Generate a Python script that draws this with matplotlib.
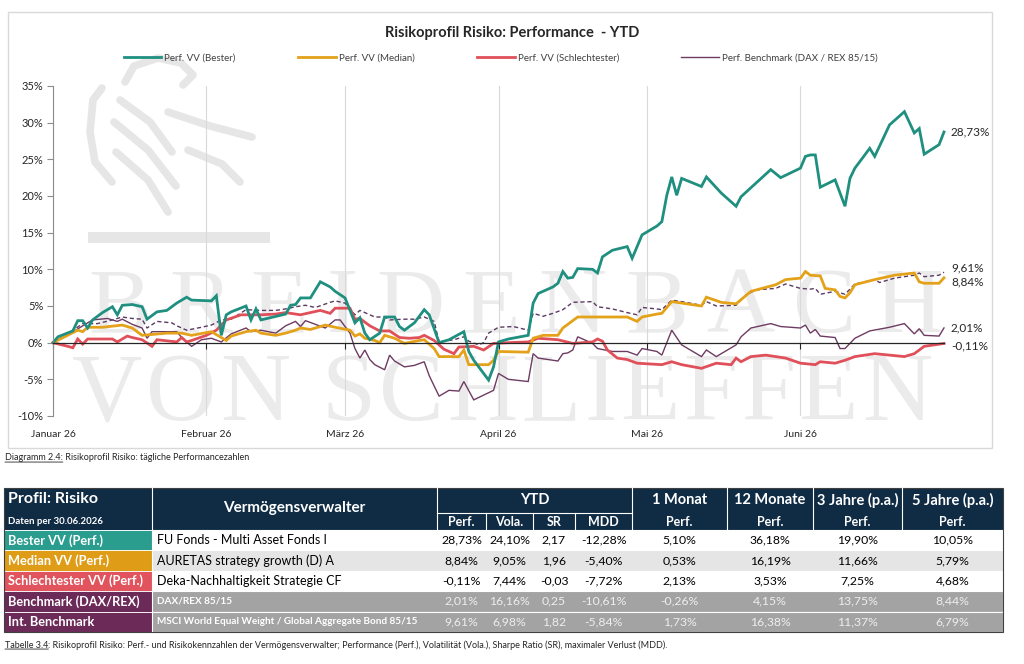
import matplotlib
matplotlib.use("Agg")
import matplotlib.pyplot as plt
import matplotlib.dates as mdates
import pandas as pd
from matplotlib.patches import Rectangle
from matplotlib.lines import Line2D

plt.rcParams["font.family"] = ["Lato", "DejaVu Sans"]

W, H = 1024, 664
YEAR = "2026-"

# ---- chart data: YTD performance in % ----
best_dates = ["01-01", "01-02", "01-05", "01-06", "01-07", "01-08", "01-09", "01-11", "01-13", "01-14",
              "01-15", "01-17", "01-19", "01-20", "01-22", "01-24", "01-26", "01-28", "01-29",
              "02-02", "02-03", "02-04", "02-05", "02-06", "02-09", "02-10", "02-11", "02-12", "02-17",
              "02-18", "02-19", "02-20", "02-22", "02-24", "02-26", "02-27",
              "03-01", "03-03", "03-04", "03-05", "03-06", "03-08", "03-09", "03-11", "03-12", "03-13",
              "03-15", "03-17", "03-18", "03-20", "03-22", "03-25", "03-26", "03-27", "03-30", "03-31",
              "04-01", "04-03", "04-07", "04-08", "04-09", "04-12", "04-13", "04-14", "04-15", "04-16",
              "04-17", "04-20", "04-21", "04-22", "04-24", "04-27", "04-28", "04-30",
              "05-03", "05-04", "05-05", "05-06", "05-07", "05-08", "05-12", "05-13", "05-16", "05-19",
              "05-20", "05-26", "05-28",
              "06-01", "06-02", "06-03", "06-04", "06-05", "06-08", "06-10", "06-11", "06-12", "06-15",
              "06-16", "06-19", "06-22", "06-24", "06-25", "06-26", "06-29", "06-30"]
best_vals = [0.0, 0.8, 1.6, 3.0, 3.0, 2.0, 3.1, 4.1, 4.9, 3.8, 5.1, 5.2, 4.9, 3.2, 4.2, 4.4, 5.4, 6.2, 5.8,
             5.7, 6.4, 1.0, 3.8, 4.2, 5.0, 3.1, 4.6, 3.1, 3.9, 5.1, 5.2, 6.1, 6.1, 8.3, 7.6, 7.0,
             6.1, 2.7, 3.4, 1.3, 0.4, 1.3, 3.5, 3.5, 2.2, 1.7, 2.7, 4.5, 3.8, 0.0, 0.4, 1.5, -1.2, -2.4, -5.1, -3.3,
             0.1, 0.5, 1.0, 5.4, 6.7, 7.6, 8.1, 9.7, 8.8, 8.9, 10.1, 10.0, 9.5, 11.7, 12.6, 13.1, 11.5, 14.7,
             15.9, 16.5, 20.1, 22.6, 20.1, 22.4, 21.3, 22.6, 20.4, 18.6, 19.9, 23.6, 22.5,
             23.8, 25.4, 25.6, 25.6, 21.2, 22.2, 18.6, 22.4, 23.8, 26.5, 25.4, 29.7, 31.5, 28.6, 29.2, 25.7,
             27.0, 28.73]

median_dates = ["01-01", "01-06", "01-07", "01-08", "01-11", "01-15", "01-17", "01-19", "01-24", "01-27", "01-29",
                "02-02", "02-05", "02-06", "02-09", "02-11", "02-12", "02-15", "02-17", "02-19", "02-20",
                "02-22", "02-25", "02-27",
                "03-02", "03-03", "03-04", "03-05", "03-07", "03-08", "03-09", "03-11", "03-13", "03-16",
                "03-17", "03-19", "03-20", "03-24", "03-25", "03-26", "03-30", "03-31",
                "04-01", "04-07", "04-08", "04-10", "04-13", "04-14", "04-17", "04-22", "04-27", "04-29", "04-30",
                "05-03", "05-04", "05-06", "05-12", "05-13", "05-16", "05-19", "05-22", "05-27", "05-29",
                "06-01", "06-02", "06-03", "06-05", "06-06", "06-08", "06-09", "06-10", "06-11", "06-12",
                "06-16", "06-20", "06-24", "06-25", "06-26", "06-29", "06-30"]
median_vals = [0.0, 1.7, 1.5, 2.1, 2.1, 2.4, 2.0, 1.0, 1.3, 1.3, 1.0,
               1.5, 0.3, 0.9, 1.5, 1.7, 1.3, 1.0, 1.3, 1.7, 2.0, 1.8, 2.4, 2.1,
               1.7, 0.9, 1.2, 0.6, 0.3, 0.0, 1.0, 0.6, -0.1, 0.3, 0.4, -0.8, -1.9, -1.9, -1.0, -3.0, -3.0, -2.4,
               -1.2, -1.3, 0.6, 1.0, 1.0, 2.0, 3.5, 3.5, 3.5, 2.9, 3.5,
               3.9, 4.0, 5.6, 5.0, 6.2, 5.5, 5.3, 7.0, 7.9, 8.6,
               8.8, 9.7, 9.2, 9.1, 7.4, 7.2, 6.3, 6.1, 6.8, 7.9, 8.6, 9.2, 9.5, 8.3, 8.1, 8.1, 8.84]

worst_dates = ["01-01", "01-04", "01-05", "01-06", "01-07", "01-08", "01-13", "01-14", "01-16", "01-17",
               "01-19", "01-21", "01-22", "01-26", "01-27", "01-28", "01-29",
               "02-01", "02-03", "02-05", "02-08", "02-12", "02-15", "02-17", "02-20", "02-22", "02-24",
               "02-26", "02-27",
               "03-02", "03-03", "03-04", "03-06", "03-08", "03-10", "03-12", "03-14", "03-16", "03-17",
               "03-19", "03-21", "03-23", "03-24", "03-27", "03-29", "03-31",
               "04-03", "04-07", "04-09", "04-13", "04-16", "04-20", "04-21", "04-22", "04-23", "04-25",
               "04-27", "04-29",
               "05-04", "05-06", "05-08", "05-12", "05-15", "05-18", "05-19", "05-20", "05-22", "05-25", "05-29",
               "06-01", "06-04", "06-05", "06-08", "06-10", "06-12", "06-16", "06-19", "06-22", "06-24",
               "06-26", "06-30"]
worst_vals = [0.0, -0.5, -0.7, 0.5, -0.2, 0.5, 0.5, 0.1, 0.9, 0.7, 0.4, -0.5, 0.4, 0.1, 0.7, 0.1, 0.3,
              1.0, 1.7, 3.1, 3.8, 3.8, 3.9, 4.1, 3.8, 4.1, 4.4, 4.0, 4.7,
              4.7, 3.2, 3.3, 2.3, 1.6, 1.6, 0.7, 0.6, 0.7, 1.0, 0.3, -0.9, -1.5, -0.6, -0.5, -1.0, -0.1,
              0.0, 0.1, 0.6, 0.4, -0.1, 0.1, 0.5, 0.2, -1.0, -2.1, -2.3, -2.8,
              -3.0, -2.6, -3.0, -3.5, -2.8, -3.0, -2.1, -2.6, -1.9, -1.7, -2.1,
              -2.8, -3.0, -2.6, -2.8, -2.4, -1.9, -1.5, -1.7, -1.9, -1.5, -0.5, -0.11]

bench_dates = ["01-01", "01-04", "01-07", "01-09", "01-12", "01-14", "01-15", "01-17", "01-19", "01-20",
               "01-21", "01-26", "01-27", "01-29", "01-31",
               "02-02", "02-04", "02-06", "02-09", "02-10", "02-12", "02-15", "02-17", "02-19", "02-20",
               "02-21", "02-23", "02-25", "02-27", "02-28",
               "03-02", "03-03", "03-04", "03-05", "03-06", "03-07", "03-09", "03-10", "03-11", "03-13",
               "03-15", "03-17", "03-18", "03-20", "03-22", "03-24", "03-25", "03-27", "03-31",
               "04-01", "04-03", "04-07", "04-08", "04-09", "04-13", "04-14", "04-15", "04-16", "04-17",
               "04-20", "04-21", "04-24", "04-27", "04-29", "04-30",
               "05-03", "05-04", "05-06", "05-08", "05-12", "05-13", "05-15", "05-19", "05-20", "05-22",
               "05-26", "05-28",
               "06-01", "06-02", "06-03", "06-04", "06-05", "06-08", "06-09", "06-10", "06-12", "06-15",
               "06-19", "06-22", "06-24", "06-25", "06-26", "06-29", "06-30"]
bench_vals = [0.0, 1.0, 2.3, 3.1, 3.3, 2.9, 3.2, 2.5, 2.0, 0.6, 1.5, 1.5, 0.7, -0.5, 0.4,
              0.6, 0.1, 1.2, 2.0, 1.5, 1.7, 1.3, 2.3, 2.9, 2.2, 3.0, 2.5, 2.0, 3.1, 3.1,
              1.3, -0.8, -2.1, -1.0, -2.3, -3.0, -3.7, -1.7, -2.5, -3.3, -3.1, -2.6, -4.5, -7.3, -6.5,
              -6.6, -5.3, -7.8, -6.5,
              -4.2, -5.0, -5.3, -1.5, -2.1, -2.5, -1.5, -1.4, -1.0, 0.8, -0.1, -0.8, -1.2, -1.2, -1.7, -0.8,
              -1.2, -1.7, 1.7, -0.3, -1.9, -1.0, -1.9, -0.3, 0.8, 2.0, 2.6, 2.2,
              2.0, 2.4, 1.3, 1.8, 0.9, 0.7, -0.8, -0.8, 0.6, 1.6, 2.1, 2.6, 1.2, 1.9, 1.0, 0.9, 2.01]

intbm_dates = ["01-01", "01-04", "01-07", "01-10", "01-13", "01-15", "01-17", "01-19", "01-20", "01-22",
               "01-25", "01-26", "01-28", "01-31",
               "02-02", "02-04", "02-06", "02-09", "02-12", "02-15", "02-17", "02-19", "02-21", "02-23",
               "02-26", "02-27",
               "03-01", "03-03", "03-04", "03-07", "03-09", "03-10", "03-13", "03-15", "03-17", "03-19",
               "03-20", "03-23", "03-25", "03-26", "03-28", "03-29", "03-30",
               "04-01", "04-04", "04-07", "04-08", "04-10", "04-12", "04-14", "04-16", "04-20", "04-21",
               "04-24", "04-27", "04-29", "04-30",
               "05-03", "05-04", "05-06", "05-08", "05-12", "05-13", "05-15", "05-19", "05-21", "05-23",
               "05-27", "05-29",
               "06-01", "06-03", "06-04", "06-05", "06-08", "06-10", "06-12", "06-16", "06-17", "06-20",
               "06-24", "06-25", "06-26", "06-29", "06-30"]
intbm_vals = [0.0, 1.2, 2.6, 2.6, 3.1, 3.5, 3.3, 3.2, 2.0, 2.9, 2.7, 2.3, 1.7, 2.1,
              2.4, 3.1, 3.2, 4.5, 4.4, 4.4, 4.6, 4.9, 5.1, 4.8, 5.5, 5.7,
              5.4, 3.8, 4.4, 3.5, 3.5, 3.1, 3.2, 3.2, 3.5, 2.9, 0.1, 0.4, 0.8, 0.2, -0.3, 0.0, 1.3,
              2.1, 2.2, 1.7, 4.0, 3.6, 4.0, 4.5, 5.5, 5.6, 4.9, 4.6, 4.1, 3.8, 4.8,
              4.6, 4.5, 5.8, 5.6, 5.1, 5.6, 5.0, 5.1, 6.5, 7.2, 7.4, 8.0,
              7.4, 7.3, 7.4, 6.6, 7.0, 6.6, 8.0, 8.6, 8.2, 8.8, 9.2, 9.5, 9.0, 9.2, 9.61]

legend_names = ["Perf. VV (Bester)", "Perf. VV (Median)", "Perf. VV (Schlechtester)",
                "Perf. Benchmark (DAX / REX 85/15)"]
month_starts = ["01-01", "02-01", "03-01", "04-01", "05-01", "06-01"]
month_labels = ["Januar 26", "Februar 26", "März 26", "April 26", "Mai 26", "Juni 26"]
y_ticks = [-10, -5, 0, 5, 10, 15, 20, 25, 30, 35]

# ---- table data ----
row_labels = ["Bester VV (Perf.)", "Median VV (Perf.)", "Schlechtester VV (Perf.)",
              "Benchmark (DAX/REX)", "Int. Benchmark"]
fund_names = ["FU Fonds - Multi Asset Fonds I", "AURETAS strategy growth (D) A",
              "Deka-Nachhaltigkeit Strategie CF", "DAX/REX 85/15",
              "MSCI World Equal Weight / Global Aggregate Bond 85/15"]
group_heads = ["1 Monat", "12 Monate", "3 Jahre (p.a.)", "5 Jahre (p.a.)"]
sub_heads = ["Perf.", "Vola.", "SR", "MDD", "Perf.", "Perf.", "Perf.", "Perf."]
table_vals = [
    [28.73, 24.10, 2.17, -12.28, 5.10, 36.18, 19.90, 10.05],
    [8.84, 9.05, 1.96, -5.40, 0.53, 16.19, 11.66, 5.79],
    [-0.11, 7.44, -0.03, -7.72, 2.13, 3.53, 7.25, 4.68],
    [2.01, 16.16, 0.25, -10.61, -0.26, 4.15, 13.75, 8.44],
    [9.61, 6.98, 1.82, -5.84, 1.73, 16.38, 11.37, 6.79],
]

# ---- styles ----
C_BEST, C_MED, C_WORST, C_BM, C_INT = "#1f8f80", "#e3a21a", "#e0505a", "#6e3b63", "#5b3a63"
NAVY = "#102c45"
LABEL_BG = ["#2a9d8e", "#df9c16", "#e1545d", "#6c2a59", "#6c2a59"]
BODY_BG = ["white", "#e5e5e5", "white", "#a3a3a3", "#a3a3a3"]
TXT = "#262626"
WM = "#ebebeb"
# vertical nudges (points) for the end-of-line labels
LABEL_NUDGE = [0, -3, -2, 0, 3]


def to_dates(days):
    return pd.to_datetime([YEAR + d for d in days])


def de_num(v, pct=True):
    s = f"{v:.2f}".replace(".", ",")
    return s + "%" if pct else s


fig = plt.figure(figsize=(W / 100, H / 100), dpi=100)

# background layer in pixel coordinates: frame, watermark, table, captions
bg = fig.add_axes([0, 0, 1, 1], zorder=-1)
bg.set_xlim(0, W)
bg.set_ylim(H, 0)
bg.axis("off")

bg.add_patch(Rectangle((8, 12), 984, 436, fill=False, edgecolor="#d9d9d9", lw=1))


def spread_word(word, x_left, x_right, y_base, size):
    texts = [bg.text(0, y_base, ch, fontsize=size, family="Liberation Serif", color=WM,
                     ha="left", va="baseline") for ch in word]
    fig.canvas.draw()
    r = fig.canvas.get_renderer()
    widths = [t.get_window_extent(r).width for t in texts]
    gap = (x_right - x_left - sum(widths)) / (len(word) - 1)
    x = x_left
    for t, w in zip(texts, widths):
        t.set_x(x)
        x += w + gap


spread_word("BREIDENBACH", 88, 942, 332, 68)
spread_word("VON SCHLIEFFEN", 72, 932, 420, 70)

# rough lion emblem of the watermark (decoration only)
lion_strokes = [
    [(125, 82), (134, 66), (158, 58), (181, 63), (193, 75), (183, 85)],
    [(102, 88), (93, 100), (90, 132), (95, 162), (112, 182)],
    [(120, 100), (150, 122), (172, 152)],
    [(114, 122), (148, 150), (176, 186)],
    [(116, 152), (148, 180), (168, 212)],
    [(168, 112), (210, 126), (252, 137)],
    [(188, 150), (222, 164), (240, 182)],
]
for stroke in lion_strokes:
    xs, ys = zip(*stroke)
    bg.plot(xs, ys, color="#e6e6e6", lw=5.5, solid_capstyle="round", solid_joinstyle="round")
bg.add_patch(Rectangle((88, 232), 182, 11, color="#e6e6e6", lw=0))

# ---- line chart ----
ax = fig.add_axes([53 / W, 1 - 416 / H, (944 - 53) / W, (416 - 86) / H], zorder=1)
ax.set_facecolor("none")

series = [
    (intbm_dates, intbm_vals, C_INT, 1.0, (0, (3, 2))),
    (bench_dates, bench_vals, C_BM, 1.0, "-"),
    (worst_dates, worst_vals, C_WORST, 2.0, "-"),
    (median_dates, median_vals, C_MED, 2.0, "-"),
    (best_dates, best_vals, C_BEST, 2.0, "-"),
]
for d, v, c, lw, ls in series:
    ax.plot(to_dates(d), v, color=c, lw=lw, ls=ls, solid_joinstyle="miter", clip_on=False)

ax.set_xlim(pd.Timestamp(YEAR + "01-01"), pd.Timestamp(YEAR + "06-30"))
ax.set_ylim(-10, 35)
ax.set_yticks(y_ticks)
ax.set_yticklabels([f"{t}%" for t in y_ticks], fontsize=8, color=TXT)
ax.set_xticks(to_dates(month_starts))
ax.tick_params(axis="x", direction="out", length=4, width=0.8, color=TXT, labelbottom=False)
ax.tick_params(axis="y", direction="out", length=4, width=0.8, color="#8c8c8c", pad=3)
ax.grid(axis="x", color="#d9d9d9", lw=0.8)
for s in ["top", "right"]:
    ax.spines[s].set_visible(False)
ax.spines["left"].set_color("#8c8c8c")
ax.spines["left"].set_linewidth(0.8)
ax.spines["bottom"].set_position(("data", 0))
ax.spines["bottom"].set_color(TXT)
ax.spines["bottom"].set_linewidth(0.9)

for d, lbl in zip(to_dates(month_starts), month_labels):
    ax.text(mdates.date2num(d), -0.055, lbl, transform=ax.get_xaxis_transform(),
            ha="center", va="center", fontsize=7.5, color=TXT)

end_series = [(best_dates, best_vals), (median_dates, median_vals), (worst_dates, worst_vals),
              (bench_dates, bench_vals), (intbm_dates, intbm_vals)]
for (d, v), dy in zip(end_series, LABEL_NUDGE):
    ax.annotate(de_num(v[-1]), xy=(to_dates(d)[-1], v[-1]), xytext=(5, dy),
                textcoords="offset points", ha="left", va="center", fontsize=8.5,
                color=TXT, annotation_clip=False)

fig.text(0.5, 1 - 33 / H, "Risikoprofil Risiko: Performance  - YTD", ha="center", va="center",
         fontsize=10.5, fontweight="bold", color=TXT)

handles = [Line2D([], [], color=C_BEST, lw=2.0), Line2D([], [], color=C_MED, lw=2.0),
           Line2D([], [], color=C_WORST, lw=2.0), Line2D([], [], color=C_BM, lw=1.0)]
fig.legend(handles, legend_names, loc="center", bbox_to_anchor=(0.489, 1 - 58 / H), ncol=4,
           frameon=False, fontsize=7, handlelength=3.9, handletextpad=0.3, columnspacing=6.4,
           labelcolor="#404040")

# ---- captions ----
def caption(x, y, head, rest):
    t1 = bg.text(x, y, head, fontsize=6.5, color=TXT, ha="left", va="center")
    bg.annotate(rest, xy=(1, 0.5), xycoords=t1, ha="left", va="center", fontsize=6.5, color=TXT)
    bg.annotate("", xy=(0, 0.05), xycoords=t1, xytext=(1, 0.05), textcoords=t1,
                arrowprops=dict(arrowstyle="-", lw=0.6, color=TXT, shrinkA=0, shrinkB=0))


caption(5, 458, "Diagramm 2.4:", " Risikoprofil Risiko: tägliche Performancezahlen")
caption(5, 645, "Tabelle 3.4",
        ": Risikoprofil Risiko: Perf.- und Risikokennzahlen der Vermögensverwalter; Performance (Perf.), "
        "Volatilität (Vola.), Sharpe Ratio (SR), maximaler Verlust (MDD).")

# ---- table ----
xb = [4, 152, 437, 486, 533, 575, 632, 727, 813, 902, 1003]
top, mid, head_bot = 488, 513, 530
row_h = 20.4

bg.add_patch(Rectangle((xb[0], top), xb[-1] - xb[0], head_bot - top, color=NAVY, lw=0))
for x in [xb[1], xb[2], xb[6], xb[7], xb[8], xb[9]]:
    bg.plot([x, x], [top, head_bot], color="white", lw=0.8)
for x in xb[3:6]:
    bg.plot([x, x], [mid, head_bot], color="white", lw=0.8)
bg.plot([xb[2], xb[6]], [mid, mid], color="white", lw=0.8)

bg.text(8, 499, "Profil: Risiko", color="white", fontsize=11.5, fontweight="bold", va="center")
bg.text(8, 521.5, "Daten per 30.06.2026", color="white", fontsize=6.9, fontweight="bold", va="center")
bg.text((xb[1] + xb[2]) / 2, 508, "Vermögensverwalter", color="white", fontsize=11,
        fontweight="bold", ha="center", va="center")
bg.text((xb[2] + xb[6]) / 2, 500.5, "YTD", color="white", fontsize=10.5, fontweight="bold",
        ha="center", va="center")
for i, g in enumerate(group_heads):
    bg.text((xb[6 + i] + xb[7 + i]) / 2, 500.5, g, color="white", fontsize=10.5, fontweight="bold",
            ha="center", va="center")
for i, s in enumerate(sub_heads):
    bg.text((xb[2 + i] + xb[3 + i]) / 2, 521.5, s, color="white", fontsize=9, fontweight="bold",
            ha="center", va="center")

for r in range(len(row_labels)):
    y = head_bot + r * row_h
    yc = y + row_h / 2
    bg.add_patch(Rectangle((xb[0], y), xb[1] - xb[0], row_h, facecolor=LABEL_BG[r],
                           edgecolor="white", lw=0.6))
    bg.add_patch(Rectangle((xb[1], y), xb[-1] - xb[1], row_h, facecolor=BODY_BG[r],
                           edgecolor="white", lw=0.8))
    bg.text(8, yc, row_labels[r], color="white", fontsize=9.2, fontweight="bold", va="center")
    dark = r >= 3
    bg.text(157, yc, fund_names[r], color="white" if dark else "black",
            fontsize=7.2 if dark else 9, fontweight="bold" if dark else "normal", va="center")
    for c, v in enumerate(table_vals[r]):
        bg.text((xb[2 + c] + xb[3 + c]) / 2, yc, de_num(v, pct=(c != 2)),
                color="#eeeeee" if dark else "black", fontsize=8.8, ha="center", va="center")

bg.add_patch(Rectangle((xb[0], top), xb[-1] - xb[0], head_bot + 5 * row_h - top, fill=False,
                       edgecolor="#404040", lw=0.8))

fig.savefig("out.png", dpi=100)
